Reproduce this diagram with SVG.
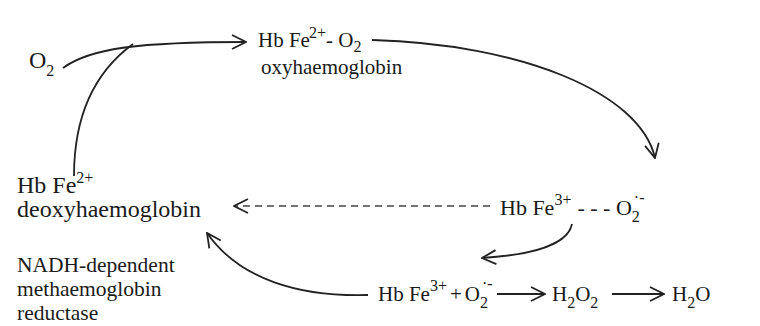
<svg xmlns="http://www.w3.org/2000/svg" width="760" height="326" viewBox="0 0 760 326">
<defs>
<style>
text{font-family:"Liberation Serif","Times New Roman",serif;font-size:22px;fill:#1a1a1a}
.s{font-size:16px}
.t{font-size:21px}
.l{font-size:24px}
.m{font-size:21.5px}
.c{fill:none;stroke:#222;stroke-width:1.8}
.d{fill:none;stroke:#444;stroke-width:1.3;stroke-dasharray:7 5}
</style>
<marker id="ah" viewBox="0 0 16 16" refX="15" refY="8" markerWidth="16" markerHeight="16" markerUnits="userSpaceOnUse" orient="auto">
<path d="M1,1 L15,8 L1,15" fill="none" stroke="#222" stroke-width="1.8"/>
</marker>
</defs>
<rect width="760" height="326" fill="#fff"/>
<g id="connectors">
<path class="c" d="M63,68 C90,48 140,42 246,42" marker-end="url(#ah)"/>
<path class="c" d="M74,176 C74,120 92,74 133,44"/>
<path class="c" d="M372,40 C520,44 640,92 655,158" marker-end="url(#ah)"/>
<path class="d" d="M490,206 L234,206" marker-end="url(#ah)"/>
<path class="c" d="M572,224 C568,245 530,255 482,258" marker-end="url(#ah)"/>
<path class="c" d="M368,295 C300,297 240,280 207,233" marker-end="url(#ah)"/>
<line class="c" x1="497" y1="294" x2="545" y2="294" marker-end="url(#ah)"/>
<line class="c" x1="612" y1="294" x2="664" y2="294" marker-end="url(#ah)"/>
</g>
<g id="o2">
<text class="l" x="29" y="68">O<tspan class="s" dy="8">2</tspan></text>
</g>
<g id="oxyhaemoglobin">
<text class="t" x="258" y="47">Hb Fe<tspan class="s" dy="-9" dx="-1">2+</tspan><tspan dy="9">- O</tspan><tspan class="s" dy="5">2</tspan></text>
<text class="t" x="261" y="74">oxyhaemoglobin</text>
</g>
<g id="deoxyhaemoglobin">
<text class="l" x="17" y="193">Hb Fe<tspan class="s" dy="-10">2+</tspan></text>
<text class="l" x="17" y="217">deoxyhaemoglobin</text>
</g>
<g id="reductase">
<text class="m" x="17" y="272">NADH-dependent</text>
<text class="m" x="17" y="296">methaemoglobin</text>
<text class="m" x="17" y="320">reductase</text>
</g>
<g id="methb-superoxide">
<text x="500" y="215">Hb Fe<tspan class="s" dy="-10">3+</tspan><tspan dy="10" dx="6">- - - O</tspan><tspan class="s" dy="7">2</tspan><tspan class="s" dy="-19" dx="-6">·-</tspan></text>
</g>
<g id="dissociated">
<text class="t" x="378" y="301">Hb Fe<tspan class="s" dy="-10">3+</tspan><tspan dy="10" dx="3">+</tspan><tspan dx="3">O</tspan><tspan class="s" dy="7">2</tspan><tspan class="s" dy="-19" dx="-6">·-</tspan></text>
<text class="t" x="552" y="301">H<tspan class="s" dy="7">2</tspan><tspan dy="-7">O</tspan><tspan class="s" dy="7">2</tspan></text>
<text class="t" x="672" y="301">H<tspan class="s" dy="7">2</tspan><tspan dy="-7">O</tspan></text>
</g>
</svg>
